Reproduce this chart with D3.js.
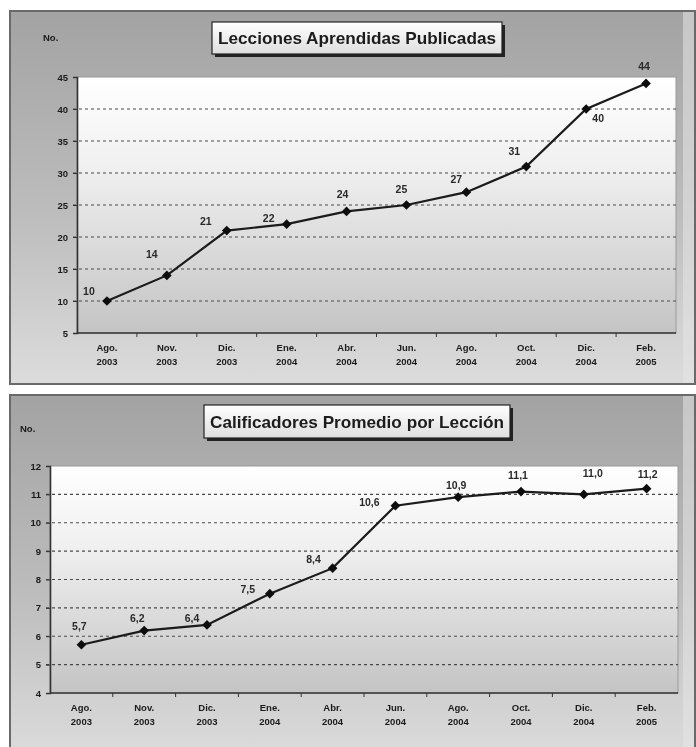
<!DOCTYPE html>
<html>
<head>
<meta charset="utf-8">
<script src="https://cdn.jsdelivr.net/npm/d3@7"></script>
<style>
  html, body { margin: 0; padding: 0; background: #ffffff; }
  svg { display: block; }
  text { font-family: "Liberation Sans", Arial, sans-serif; font-weight: bold; }
</style>
</head>
<body>
<svg id="chart" width="696" height="747"></svg>
<script>
// Months shown on both charts (two-line labels)
const months = ["Ago.", "Nov.", "Dic.", "Ene.", "Abr.", "Jun.", "Ago.", "Oct.", "Dic.", "Feb."];
const years  = ["2003", "2003", "2003", "2004", "2004", "2004", "2004", "2004", "2004", "2005"];

// Lessons learned published (cumulative count)
const lessonsPublished = [10, 14, 21, 22, 24, 25, 27, 31, 40, 44];
const lessonsTicks = [5, 10, 15, 20, 25, 30, 35, 40, 45];

// Average raters per lesson
const avgRaters = [5.7, 6.2, 6.4, 7.5, 8.4, 10.6, 10.9, 11.1, 11.0, 11.2];
const ratersTicks = [4, 5, 6, 7, 8, 9, 10, 11, 12];

// Data label offsets (dx, dy) relative to each point
const lessonsLabelOffset = [[-18,-10],[-15,-21],[-21,-9],[-18,-6],[-4,-17],[-5,-16],[-10,-13],[-12,-15],[12,9],[-2,-17]];
const ratersLabelOffset  = [[-2,-18],[-7,-12],[-15,-7],[-22,-4],[-19,-9],[-26,-3],[-2,-12],[-3,-16],[9,-21],[1,-14]];

const svg = d3.select("#chart");
const defs = svg.append("defs");

const frameGrad = defs.append("linearGradient").attr("id", "frameGrad")
  .attr("x1", 0).attr("y1", 0).attr("x2", 0).attr("y2", 1);
frameGrad.append("stop").attr("offset", "0%").attr("stop-color", "#a3a3a3");
frameGrad.append("stop").attr("offset", "55%").attr("stop-color", "#bdbdbd");
frameGrad.append("stop").attr("offset", "100%").attr("stop-color", "#dcdcdc");

const plotGrad = defs.append("linearGradient").attr("id", "plotGrad")
  .attr("x1", 0).attr("y1", 0).attr("x2", 0).attr("y2", 1);
plotGrad.append("stop").attr("offset", "0%").attr("stop-color", "#ffffff");
plotGrad.append("stop").attr("offset", "35%").attr("stop-color", "#f0f0f0");
plotGrad.append("stop").attr("offset", "100%").attr("stop-color", "#c4c4c4");

const titleGrad = defs.append("linearGradient").attr("id", "titleGrad")
  .attr("x1", 0).attr("y1", 0).attr("x2", 0).attr("y2", 1);
titleGrad.append("stop").attr("offset", "0%").attr("stop-color", "#ffffff");
titleGrad.append("stop").attr("offset", "100%").attr("stop-color", "#dedede");

const blur = defs.append("filter").attr("id", "soft");
blur.append("feGaussianBlur").attr("stdDeviation", 0.45);

function drawChart(cfg) {
  const g = svg.append("g").attr("filter", "url(#soft)");

  // outer panel
  g.append("rect")
    .attr("x", cfg.frame.x).attr("y", cfg.frame.y)
    .attr("width", cfg.frame.w).attr("height", cfg.frame.h)
    .attr("fill", "url(#frameGrad)")
    .attr("stroke", "#6a6a6a").attr("stroke-width", 2);
  // light strip on the panel's right side
  g.append("rect")
    .attr("x", cfg.frame.x + cfg.frame.w - 12).attr("y", cfg.frame.y + 1)
    .attr("width", 11).attr("height", cfg.frame.h - 2)
    .attr("fill", "#e6e6e6").attr("opacity", 0.55);

  const x = d3.scalePoint().domain(d3.range(cfg.values.length))
    .range([cfg.plot.x0, cfg.plot.x1]).padding(0.5);
  const y = d3.scaleLinear().domain(cfg.domain).range([cfg.plot.y1, cfg.plot.y0]);
  const step = x.step();

  // plot area
  g.append("rect")
    .attr("x", cfg.plot.x0).attr("y", cfg.plot.y0)
    .attr("width", cfg.plot.x1 - cfg.plot.x0).attr("height", cfg.plot.y1 - cfg.plot.y0)
    .attr("fill", "url(#plotGrad)")
    .attr("stroke", "#9a9a9a").attr("stroke-width", 1);

  // dashed gridlines
  const gridVals = cfg.ticks.filter(t => t > cfg.domain[0] && t < cfg.domain[1]);
  g.append("g").selectAll("line").data(gridVals).join("line")
    .attr("x1", cfg.plot.x0 - 4).attr("x2", cfg.plot.x1)
    .attr("y1", d => y(d)).attr("y2", d => y(d))
    .attr("stroke", "#4a4a4a").attr("stroke-width", 1.1)
    .attr("stroke-dasharray", "3,3");

  // y axis
  const yAxis = d3.axisLeft(y).tickValues(cfg.ticks).tickSize(4).tickPadding(5)
    .tickFormat(d3.format("d"));
  const ya = g.append("g").attr("transform", `translate(${cfg.plot.x0},0)`).call(yAxis);
  ya.select(".domain").attr("stroke", "#333").attr("stroke-width", 1.6);
  ya.selectAll(".tick line").attr("stroke", "#333");
  ya.selectAll(".tick text").attr("font-size", 9.5).attr("fill", "#1a1a1a")
    .style("font-family", "'Liberation Sans', Arial, sans-serif").style("font-weight", "bold");

  // x axis with ticks between categories
  const xa = g.append("g");
  xa.append("line")
    .attr("x1", cfg.plot.x0).attr("x2", cfg.plot.x1)
    .attr("y1", cfg.plot.y1).attr("y2", cfg.plot.y1)
    .attr("stroke", "#333").attr("stroke-width", 1.6);
  xa.selectAll("line.tk").data(d3.range(1, cfg.values.length)).join("line")
    .attr("class", "tk")
    .attr("x1", i => x(i) - step / 2).attr("x2", i => x(i) - step / 2)
    .attr("y1", cfg.plot.y1).attr("y2", cfg.plot.y1 + 4)
    .attr("stroke", "#333");
  const xl = xa.selectAll("text.xl").data(d3.range(cfg.values.length)).join("text")
    .attr("class", "xl")
    .attr("text-anchor", "middle")
    .attr("font-size", 9.5).attr("fill", "#1a1a1a")
    .attr("x", i => x(i));
  xl.append("tspan").attr("x", i => x(i)).attr("y", cfg.plot.y1 + 18).text(i => months[i]);
  xl.append("tspan").attr("x", i => x(i)).attr("y", cfg.plot.y1 + 32).text(i => years[i]);

  // "No." unit label
  g.append("text").attr("x", cfg.unit.x).attr("y", cfg.unit.y)
    .attr("font-size", 9.5).attr("fill", "#1a1a1a").text("No.");

  // series line and diamond markers
  const line = d3.line().x((d, i) => x(i)).y(d => y(d));
  g.append("path").datum(cfg.values)
    .attr("d", line).attr("fill", "none")
    .attr("stroke", "#1a1a1a").attr("stroke-width", 2.2);
  g.append("g").selectAll("path").data(cfg.values).join("path")
    .attr("d", d3.symbol(d3.symbolDiamond2, 60))
    .attr("transform", (d, i) => `translate(${x(i)},${y(d)})`)
    .attr("fill", "#111");

  // value labels
  g.append("g").selectAll("text").data(cfg.values).join("text")
    .attr("x", (d, i) => x(i) + cfg.offsets[i][0])
    .attr("y", (d, i) => y(d) + cfg.offsets[i][1])
    .attr("dy", "0.35em")
    .attr("text-anchor", "middle")
    .attr("font-size", 10.5).attr("fill", "#2a2a2a")
    .text(d => cfg.labelFormat(d));

  // title box with drop shadow
  const tb = cfg.titleBox;
  g.append("rect").attr("x", tb.x + 3).attr("y", tb.y + 3)
    .attr("width", tb.w).attr("height", tb.h).attr("fill", "#222");
  g.append("rect").attr("x", tb.x).attr("y", tb.y)
    .attr("width", tb.w).attr("height", tb.h)
    .attr("fill", "url(#titleGrad)")
    .attr("stroke", "#222").attr("stroke-width", 1.2);
  g.append("text")
    .attr("x", tb.x + tb.w / 2).attr("y", tb.y + tb.h / 2)
    .attr("dy", "0.36em").attr("text-anchor", "middle")
    .attr("font-size", cfg.titleSize).attr("fill", "#1a1a1a")
    .attr("textLength", tb.w - 12).attr("lengthAdjust", "spacingAndGlyphs")
    .text(cfg.title);
}

drawChart({
  frame: { x: 10, y: 11, w: 685, h: 373 },
  plot: { x0: 77, x1: 676, y0: 77, y1: 333 },
  domain: [5, 45],
  ticks: lessonsTicks,
  values: lessonsPublished,
  offsets: lessonsLabelOffset,
  labelFormat: d => String(d),
  unit: { x: 43, y: 41 },
  titleBox: { x: 212, y: 22, w: 290, h: 32 },
  titleSize: 17,
  title: "Lecciones Aprendidas Publicadas"
});

drawChart({
  frame: { x: 10, y: 395, w: 685, h: 362 },
  plot: { x0: 50, x1: 678, y0: 466, y1: 693 },
  domain: [4, 12],
  ticks: ratersTicks,
  values: avgRaters,
  offsets: ratersLabelOffset,
  labelFormat: d => d.toFixed(1).replace(".", ","),
  unit: { x: 20, y: 432 },
  titleBox: { x: 204, y: 405, w: 306, h: 33 },
  titleSize: 17,
  title: "Calificadores Promedio por Lección"
});
</script>
</body>
</html>
